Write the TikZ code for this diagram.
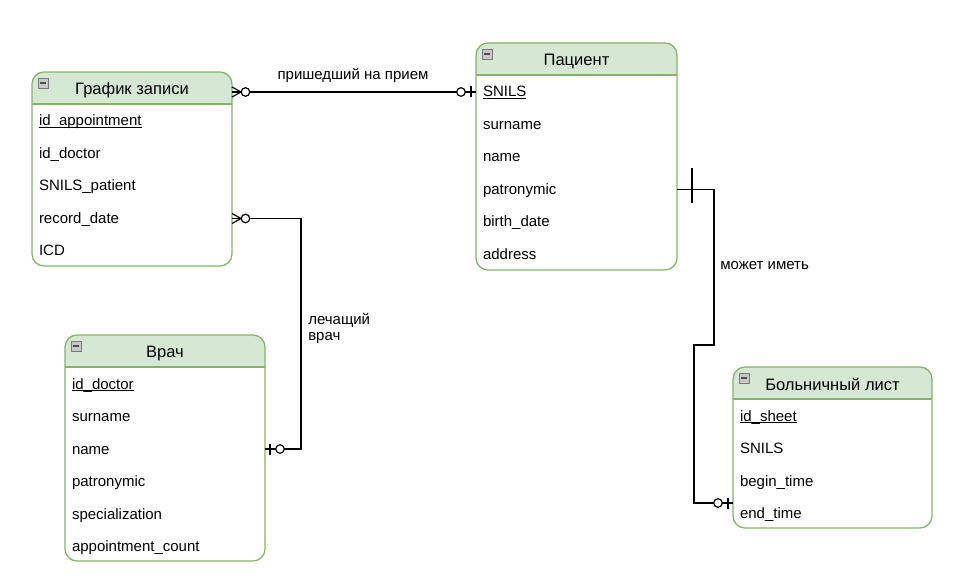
\documentclass[tikz,border=0pt]{standalone}
\usepackage{fontspec}
\setmainfont{Liberation Sans}
\usetikzlibrary{calc}

\definecolor{hdrfill}{HTML}{D5E8D4}
\definecolor{hdrline}{HTML}{82B366}
\definecolor{iconline}{HTML}{7A7A7A}
\definecolor{iconfill}{HTML}{C8C8C8}

% underlined key attribute
\newcommand\keyfield[1]{\setbox0\hbox{#1}\rlap{\rule[-1.6pt]{\wd0}{0.7pt}}\box0}

\tikzset{
  txt/.style={font=\fontsize{11.25pt}{13.5pt}\selectfont, text=black},
  tblline/.style={draw=hdrline, line width=0.95pt},
  hdrtext/.style={font=\fontsize{12.4pt}{14pt}\selectfont, text=black, inner sep=0pt, outer sep=0pt, anchor=base},
  rowtext/.style={txt, inner ysep=2pt, outer sep=0pt, align=left, anchor=base},
  conn/.style={draw=black, line width=0.9pt},
  endmark/.style={draw=black, line width=0.9pt},
  lbl/.style={txt, inner sep=0pt, align=left},
}

% entity box: #1 name, #2 left, #3 top, #4 right, #5 bottom, #6 title, #7 attributes
\newcommand\ertable[7]{%
  \pgfmathsetmacro\tblw{#4-#2}%
  \pgfmathsetmacro\txw{(#4-#2-14)*0.75}%
  \begin{scope}
    \clip[rounded corners=9pt] (#2,#3) rectangle (#4,#5);
    \fill[hdrfill] (#2,#3) rectangle (#4,#3+32);
  \end{scope}
  \draw[tblline, rounded corners=9pt] (#2,#3) rectangle (#4,#5);
  \draw[tblline] (#2,#3+32) -- (#4,#3+32);
  % collapse icon
  \draw[draw=iconline, fill=iconfill, line width=0.6pt] (#2+6,#3+6) rectangle ++(10,10);
  \draw[draw=black!70, line width=1pt] (#2+8,#3+11) -- ++(6,0);
  \node[hdrtext] (#1-t) at ({(#2+#4)/2},#3+23) {#6};
  \foreach \txt [count=\i] in {#7} {
    \node[rowtext, minimum width=\tblw*0.75pt, inner xsep=5.25pt, text width=\txw pt]
      (#1-\i) at ({(#2+#4)/2},{#3+32+17+(\i-1)*32.5+5}) {\txt};
  }%
}

% zero-or-many end at #1, line leaving in direction #2 (1 = right, -1 = left)
\newcommand\crowzero[2]{%
  \begin{scope}[shift={(#1)}, xscale=#2]
    \draw[endmark] (0,-5) -- (9,0) -- (0,5);
    \draw[endmark, fill=white] (13.5,0) circle[radius=3.2pt];
  \end{scope}}
% zero-or-one end
\newcommand\onezero[2]{%
  \begin{scope}[shift={(#1)}, xscale=#2]
    \draw[endmark] (5,-5.5) -- (5,5.5);
    \draw[endmark, fill=white] (15,0) circle[radius=3.2pt];
  \end{scope}}
% exactly-one end (long bar)
\newcommand\onlyone[2]{%
  \begin{scope}[shift={(#1)}, xscale=#2]
    \draw[endmark] (15,-21) -- (15,14);
  \end{scope}}

\begin{document}
\begin{tikzpicture}[x=0.75pt, y=-0.75pt]
\useasboundingbox (0,0) rectangle (979,588);

\ertable{g}{32}{72}{232}{266}{График записи}%
  {{\keyfield{id\_appointment}}, id\_doctor, SNILS\_patient, record\_date, ICD}
\ertable{p}{476}{43}{677}{270}{Пациент}%
  {{\keyfield{SNILS}}, surname, name, patronymic, birth\_date, address}
\ertable{v}{65}{335}{265}{561}{Врач}%
  {{\keyfield{id\_doctor}}, surname, name, patronymic, specialization, appointment\_count}
\ertable{b}{733}{367}{932}{528}{Больничный лист}%
  {{\keyfield{id\_sheet}}, SNILS, begin\_time, end\_time}

% connection points on the box edges, at the middle of each row
\coordinate (g4e) at ($(g-4.base east)+(0,-5)$);
\coordinate (p1w) at ($(p-1.base west)+(0,-5)$);
\coordinate (p4e) at ($(p-4.base east)+(0,-5)$);
\coordinate (v3e) at ($(v-3.base east)+(0,-5)$);
\coordinate (b4w) at ($(b-4.base west)+(0,-15.5)$);

% schedule -> patient
\coordinate (c1a) at (p1w -| g-1.east);
\draw[conn] (c1a) -- (p1w);
\crowzero{c1a}{1}
\onezero{p1w}{-1}
\node[lbl] (l1) at (353,75.5) {пришедший на прием};

% schedule -> doctor
\draw[conn] (g4e) -- ++(69,0) |- (v3e);
\crowzero{g4e}{1}
\onezero{v3e}{1}
\node[lbl, anchor=west] (l2) at (308,328.5) {лечащий\\[-1.5pt]врач};

% patient -> sick leave
\draw[conn] (p4e) -- ++(37,0) -- ++(0,155.5) -- ++(-20,0) |- (b4w);
\onlyone{p4e}{1}
\onezero{b4w}{-1}
\node[lbl, anchor=west] (l3) at (720,266) {может иметь};

\end{tikzpicture}
\end{document}
